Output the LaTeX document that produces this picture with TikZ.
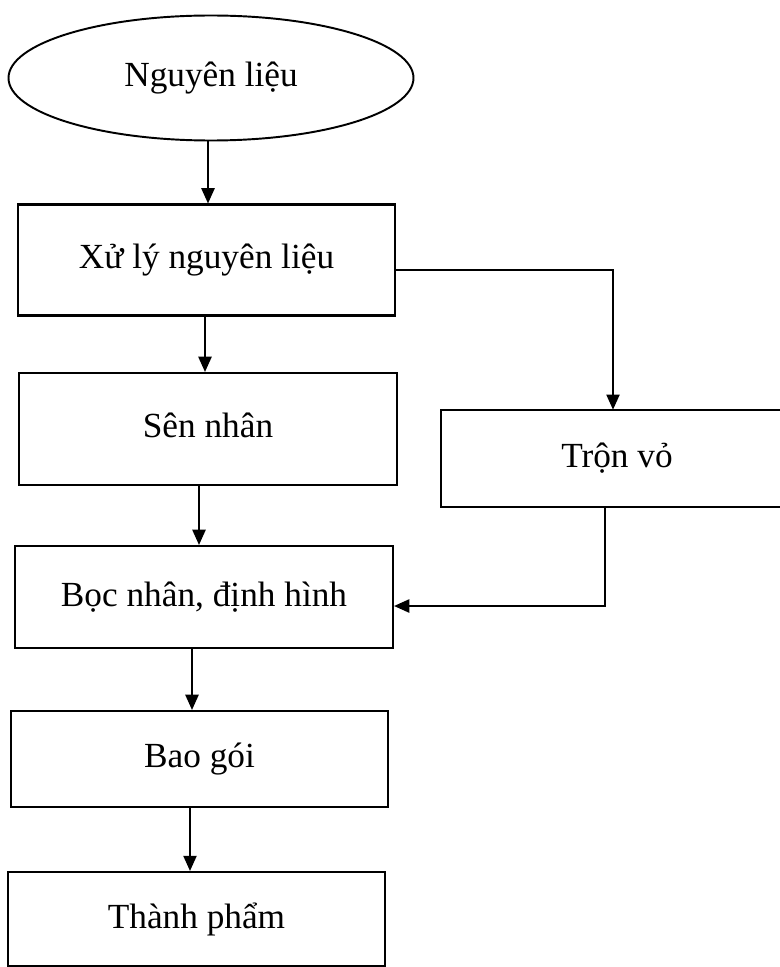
\documentclass[tikz,border=0pt]{standalone}
\usepackage{fontspec}
\setmainfont{Liberation Serif}
\usetikzlibrary{shapes.geometric,arrows.meta}
\begin{document}
\begin{tikzpicture}[x=0.7227pt,y=-0.7227pt,
  txt/.style={font=\fontsize{25.5}{30}\selectfont},
  box/.style={draw,line width=1.5pt,rectangle,inner sep=0pt,txt},
  oval/.style={draw,line width=1.4pt,ellipse,inner sep=0pt,txt},
  edge/.style={line width=1.5pt},
  arr/.style={line width=1.4pt,-{Triangle[length=11pt,width=9.5pt]}}]
\useasboundingbox (0,0) rectangle (780,967);

\node[oval,minimum width=405*0.7227pt,minimum height=125*0.7227pt] (e) at (211,78) {Nguyên liệu};
\node[box,minimum width=377*0.7227pt,minimum height=111*0.7227pt] (x1) at (206.5,260) {\raisebox{2pt}{Xử lý nguyên liệu}};
\node[box,minimum width=378*0.7227pt,minimum height=112*0.7227pt] (sen) at (208,429) {\raisebox{5pt}{Sên nhân}};
\node[txt,inner sep=0pt,minimum width=352*0.7227pt,minimum height=97*0.7227pt] (tron) at (617,458.5) {\raisebox{-3.5pt}{Trộn vỏ}};
\draw[edge] ([xshift=30pt]tron.north east) -- (tron.north west) -- (tron.south west) -- ([xshift=30pt]tron.south east);
\node[box,minimum width=378*0.7227pt,minimum height=102*0.7227pt] (boc) at (204,597) {\raisebox{2pt}{Bọc nhân, định hình}};
\node[box,minimum width=377*0.7227pt,minimum height=96*0.7227pt] (bao) at (199.5,759) {Bao gói};
\node[box,minimum width=377*0.7227pt,minimum height=94*0.7227pt] (thanh) at (196.5,919) {\raisebox{1.5pt}{Thành phẩm}};

\coordinate (a1) at (208,0);
\coordinate (a2) at (205,0);
\coordinate (a3) at (199,0);
\coordinate (a4) at (192,0);
\coordinate (a5) at (190,0);
\coordinate (c1) at (613,270);
\coordinate (c2) at (605,606);

\draw[arr] (e.south -| a1) -- (x1.north -| a1);
\draw[arr] (x1.south -| a2) -- (sen.north -| a2);
\draw[arr] (x1.east |- c1) -- (c1) -- (tron.north -| c1);
\draw[arr] (sen.south -| a3) -- (boc.north -| a3);
\draw[arr] (tron.south -| c2) -- (c2) -- (boc.east |- c2);
\draw[arr] (boc.south -| a4) -- (bao.north -| a4);
\draw[arr] (bao.south -| a5) -- (thanh.north -| a5);
\end{tikzpicture}
\end{document}
